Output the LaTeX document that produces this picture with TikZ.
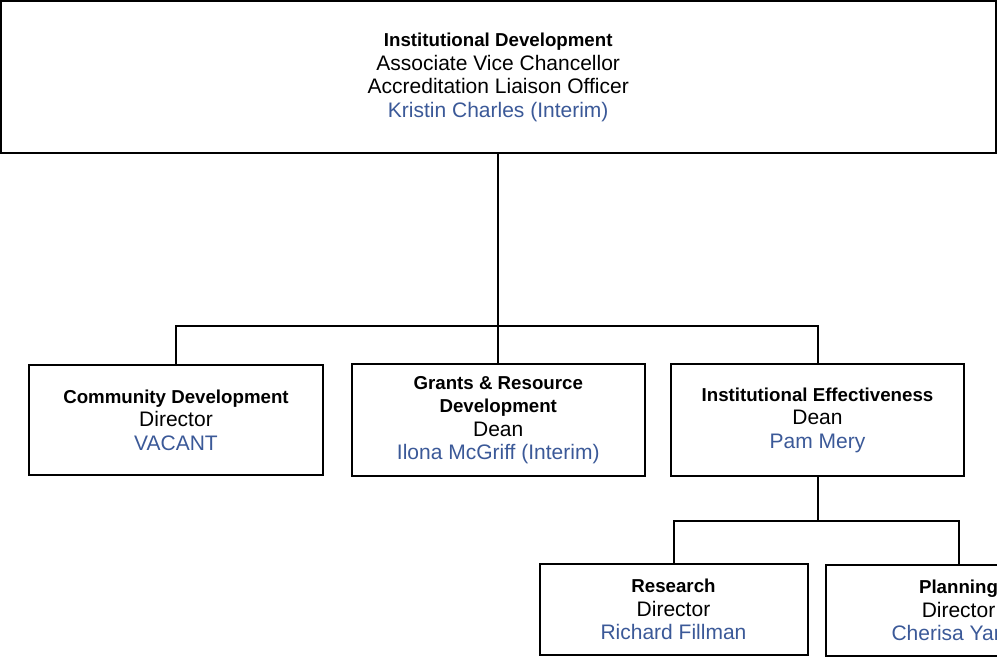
\documentclass[tikz,border=0pt]{standalone}
\usepackage{fontspec}
\setmainfont{Liberation Sans}
\definecolor{namecol}{RGB}{59,89,152}
% heading line (bold, slightly smaller) and office-holder line (blue)
\newcommand\unithead[1]{{\fontsize{18.7}{23.5}\selectfont\bfseries #1}}
\newcommand\holder[1]{\textcolor{namecol}{#1}}
\begin{document}
\begin{tikzpicture}[x=1pt,y=-1pt,
  box/.style={draw=black, line width=2pt, fill=white, align=center,
    inner sep=0pt, font=\fontsize{21}{23.5}\selectfont},
  link/.style={draw=black, line width=2pt}]
\clip (0,0) rectangle (997,658);

% top unit
\node[box, minimum width=994.5, minimum height=151.5] (top) at (498.25,77.25)
  {\unithead{Institutional Development}\\ Associate Vice Chancellor\\
   Accreditation Liaison Officer\\ \holder{Kristin Charles (Interim)}};

% second level
\node[box, minimum width=294, minimum height=110] (comm) at (176,420)
  {\unithead{Community Development}\\ Director\\ \holder{VACANT}};
\node[box, minimum width=293, minimum height=112] (grants) at (498.25,420)
  {\unithead{Grants \& Resource}\\ \unithead{Development}\\ Dean\\
   \holder{Ilona McGriff (Interim)}};
\node[box, minimum width=293, minimum height=112] (ie) at (817.5,420)
  {\unithead{Institutional Effectiveness}\\ Dean\\ \holder{Pam Mery}};

% third level
\node[box, minimum width=268, minimum height=91] (res) at (673.5,609.5)
  {\unithead{Research}\\ Director\\ \holder{Richard Fillman}};
\node[box, minimum width=266, minimum height=91] (plan) at (958.5,610.5)
  {\unithead{Planning}\\ Director\\
   \makebox[134pt][l]{\holder{Cherisa Yar}}};

% connectors
\coordinate (bus) at (498.25,326);
\coordinate (bus2) at (817.5,521);
\draw[link] (top.south) -- (grants.north);
\draw[link] (comm.north) |- (bus) -| (ie.north);
\draw[link] (ie.south) -- (bus2);
\draw[link] (res.north) |- (bus2) -| (plan.north);
\end{tikzpicture}
\end{document}
